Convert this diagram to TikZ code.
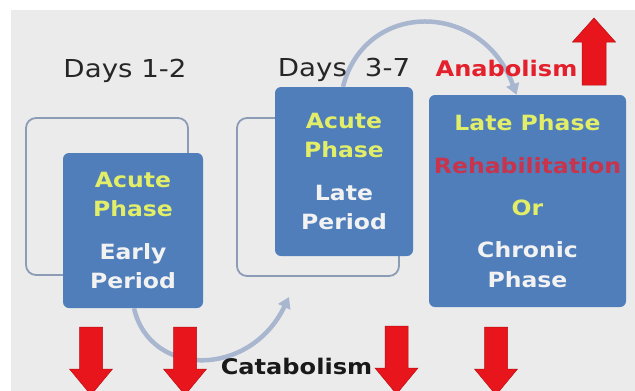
\documentclass[tikz,border=0pt]{standalone}
\usepackage{fontspec}
\setmainfont{DejaVu Sans}[FakeStretch=1.12]
\usetikzlibrary{arrows.meta}
\definecolor{bgc}{HTML}{EBEBEB}
\definecolor{boxc}{HTML}{4F7EBB}
\definecolor{framec}{HTML}{8D9CB6}
\definecolor{curvec}{HTML}{A9B6CF}
\definecolor{ylw}{HTML}{E2EE68}
\definecolor{wht}{HTML}{F2F2F2}
\definecolor{rehab}{HTML}{C8344B}
\definecolor{anab}{HTML}{E3202B}
\definecolor{arrred}{HTML}{E8161C}
\definecolor{arrdark}{HTML}{B80D12}
\tikzset{
  frame/.style={draw=framec, line width=1.8pt, rounded corners=10pt},
  phasebox/.style={fill=boxc, rounded corners=6pt, inner sep=0pt, align=center, text=wht,
    font=\bfseries\fontsize{21}{29.5}\selectfont},
  curvearrow/.style={draw=curvec, line width=4.5pt, -{Triangle[length=11pt,width=13pt]}},
  daylabel/.style={font=\fontsize{24.7}{28}\selectfont, text=black!85, anchor=base, inner sep=0pt},
  metlabel/.style={font=\bfseries\fontsize{21.5}{26}\selectfont, anchor=base, inner sep=0pt},
  downred/.pic={\filldraw[fill=arrred, draw=arrdark, line width=0.5pt]
    (-11.5,0) -- (11.5,0) -- (11.5,42) -- (21.5,42) -- (0,68) -- (-21.5,42) -- (-11.5,42) -- cycle;},
  upred/.pic={\filldraw[fill=arrred, draw=arrdark, line width=0.5pt]
    (-12,0) -- (12,0) -- (12,-43) -- (21.5,-43) -- (0,-67) -- (-21.5,-43) -- (-12,-43) -- cycle;}
}
\newcommand{\yl}[1]{\textcolor{ylw}{#1}}
\begin{document}
\begin{tikzpicture}[x=1pt, y=-1pt]
\useasboundingbox (0,0) rectangle (635,391);
\fill[white] (0,0) rectangle (635,391);
\fill[bgc] (11,10) rectangle (635,391);
\begin{scope}
\clip (0,0) rectangle (635,391);
% frames
\draw[frame] (26,118) rectangle (188,275);
\draw[frame] (237,118) rectangle (399,276);
% boxes
\node[phasebox, minimum width=140pt, minimum height=155pt] (b1) at (133,230.5)
  {\yl{Acute}\\\yl{Phase}\\[13pt]Early\\Period};
\node[phasebox, minimum width=138pt, minimum height=169pt] (b2) at (344,171.5)
  {\yl{Acute}\\\yl{Phase}\\[13pt]Late\\Period};
\node[phasebox, minimum width=197pt, minimum height=212pt, font=\bfseries\fontsize{21}{30}\selectfont] (b3) at (527.5,201)
  {\yl{Late Phase}\\[13pt]\textcolor{rehab}{Rehabilitation}\\[12pt]\yl{Or}\\[12pt]Chronic\\Phase};
% curved arrows
\coordinate (c1end) at (289,297);
\draw[curvearrow] ([xshift=1pt]b1.south) .. controls (150,378) and (250,378) .. (c1end);
\draw[curvearrow] ([xshift=-1pt]b2.north) .. controls (365,0) and (482,0) .. ([xshift=-11pt]b3.north);
% labels
\node[daylabel] (d12) at (125,77) {Days 1-2};
\node[daylabel] (d37) at (344,76) {Days\hspace{18pt}3-7};
\node[metlabel, text=anab] (anabol) at (506.5,76) {Anabolism};
\node[metlabel, text=black!90] (catab) at (296.5,374) {Catabolism};
% red arrows
\pic at (91,327) {downred};
\pic at (185,327) {downred};
\pic at (396.5,326) {downred};
\pic at (496,327) {downred};
\pic at (594,85) {upred};
\end{scope}
\end{tikzpicture}
\end{document}
